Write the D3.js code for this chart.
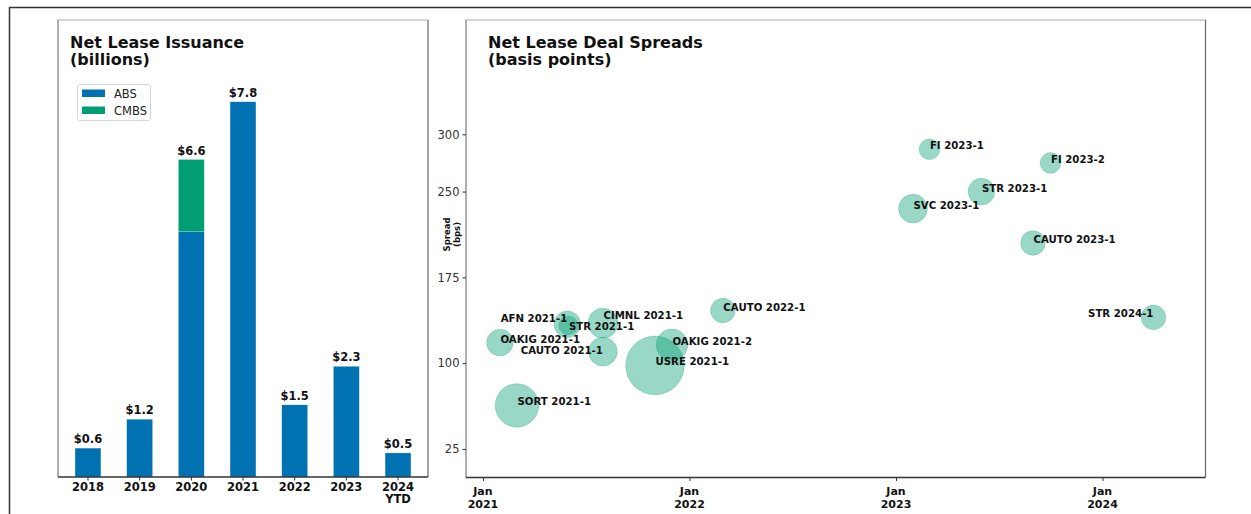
<!DOCTYPE html>
<html><head><meta charset="utf-8">
<script src="https://cdn.jsdelivr.net/npm/d3@7"></script>
<style>
body{margin:0;background:#fff;}
text{font-family:"DejaVu Sans",sans-serif;}
</style>
</head><body>
<svg id="c" width="1251" height="514"></svg>
<script>
// ---------- data ----------
const years = ["2018", "2019", "2020", "2021", "2022", "2023", "2024\nYTD"];
const absValues = [0.6, 1.2, 5.1, 7.8, 1.5, 2.3, 0.5];
const cmbsValues = [0, 0, 1.5, 0, 0, 0, 0];
const totalLabels = ["$0.6", "$1.2", "$6.6", "$7.8", "$1.5", "$2.3", "$0.5"];
const seriesNames = ["ABS", "CMBS"];

const dealNames = ["OAKIG 2021-1", "SORT 2021-1", "AFN 2021-1", "STR 2021-1", "CIMNL 2021-1",
  "CAUTO 2021-1", "USRE 2021-1", "OAKIG 2021-2", "CAUTO 2022-1", "SVC 2023-1", "FI 2023-1",
  "STR 2023-1", "CAUTO 2023-1", "FI 2023-2", "STR 2024-1"];
const dealDates = ["2021-01-31", "2021-03-02", "2021-05-30", "2021-06-01", "2021-08-01",
  "2021-08-01", "2021-11-01", "2021-12-01", "2022-03-01", "2023-01-31", "2023-03-01",
  "2023-06-01", "2023-08-31", "2023-10-01", "2024-03-31"];
const dealSpreads = [118, 63, 134, 133, 135, 110, 98, 116, 146, 235, 287, 250, 205, 275, 140];
const dealSizes = [205, 550, 205, 105, 260, 240, 1000, 290, 175, 240, 125, 205, 175, 125, 175];
const spreadTicks = [25, 100, 175, 250, 300];
const dateTicks = ["2021-01-01", "2022-01-01", "2023-01-01", "2024-01-01"];
const dateTickLabels = ["Jan\n2021", "Jan\n2022", "Jan\n2023", "Jan\n2024"];

// ---------- styling ----------
const ABS_COLOR = "#0072B2", CMBS_COLOR = "#009E73", BUBBLE = "#009E73";
const svg = d3.select("#c");

// outer frame
svg.append("path").attr("d", "M9.5,514 L9.5,7.5 L1251,7.5")
  .attr("fill", "none").attr("stroke", "#333").attr("stroke-width", 1.5);

function frame(x0, x1, y0, y1) {
  svg.append("line").attr("x1", x0).attr("x2", x1).attr("y1", y0).attr("y2", y0).attr("stroke", "#aaa").attr("stroke-width", 1.2);
  svg.append("line").attr("x1", x0).attr("x2", x0).attr("y1", y0).attr("y2", y1).attr("stroke", "#777").attr("stroke-width", 1.2);
  svg.append("line").attr("x1", x1).attr("x2", x1).attr("y1", y0).attr("y2", y1).attr("stroke", "#666").attr("stroke-width", 1.2);
  svg.append("line").attr("x1", x0).attr("x2", x1).attr("y1", y1).attr("y2", y1).attr("stroke", "#333").attr("stroke-width", 1.5);
}

// ---------- left panel: bars ----------
const L = {x0: 58, x1: 428, y0: 20, y1: 477};
const xb = d3.scaleBand().domain(years).range([L.x0, L.x1]).paddingInner(0.5).paddingOuter(0.33);
const yb = d3.scaleLinear().domain([0, 9.5]).range([L.y1, L.y0]);

const stackData = years.map((y, i) => ({year: y, ABS: absValues[i], CMBS: cmbsValues[i]}));
const stacked = d3.stack().keys(seriesNames)(stackData);
const colors = {ABS: ABS_COLOR, CMBS: CMBS_COLOR};
stacked.forEach(layer => {
  svg.append("g").selectAll("rect").data(layer.filter(d => d[1] > d[0])).join("rect")
    .attr("x", d => xb(d.data.year))
    .attr("width", xb.bandwidth())
    .attr("y", d => yb(d[1]))
    .attr("height", d => yb(d[0]) - yb(d[1]))
    .attr("fill", colors[layer.key])
    .attr("stroke", "#fff").attr("stroke-opacity", 0.5).attr("stroke-width", 0.4);
});
// totals
svg.append("g").selectAll("text").data(years).join("text")
  .attr("x", d => xb(d) + xb.bandwidth() / 2)
  .attr("y", (d, i) => yb(absValues[i] + cmbsValues[i]) - 5)
  .attr("text-anchor", "middle").attr("font-size", 11.5).attr("font-weight", "bold").attr("fill", "#111")
  .text((d, i) => totalLabels[i]);

frame(L.x0, L.x1, L.y0, L.y1);
// x axis
const gxb = svg.append("g").attr("transform", `translate(0,${L.y1})`)
  .call(d3.axisBottom(xb).tickSize(3.5).tickSizeOuter(0).tickFormat(""));
gxb.select(".domain").remove();
gxb.selectAll(".tick line").attr("stroke", "#333");
years.forEach(y => {
  const t = svg.append("text").attr("x", xb(y) + xb.bandwidth() / 2).attr("y", 490.5)
    .attr("text-anchor", "middle").attr("font-size", 11.5).attr("font-weight", "bold").attr("fill", "#111");
  y.split("\n").forEach((s, k) => t.append("tspan").attr("x", xb(y) + xb.bandwidth() / 2).attr("dy", k ? 12.5 : 0).text(s));
});
// title
const t1 = svg.append("text").attr("x", 70).attr("y", 48).attr("font-size", 16).attr("font-weight", "bold").attr("fill", "#111");
t1.append("tspan").attr("x", 70).text("Net Lease Issuance");
t1.append("tspan").attr("x", 70).attr("dy", 17).text("(billions)");
// legend
svg.append("rect").attr("x", 77.5).attr("y", 84.5).attr("width", 73).attr("height", 36).attr("rx", 2)
  .attr("fill", "#fff").attr("stroke", "#d6d6d6");
seriesNames.forEach((s, i) => {
  svg.append("rect").attr("x", 82).attr("y", 89.5 + i * 17).attr("width", 23).attr("height", 7.5).attr("fill", colors[s]);
  svg.append("text").attr("x", 114).attr("y", 97.5 + i * 17).attr("font-size", 11.5).attr("fill", "#222").text(s);
});

// ---------- right panel: bubbles ----------
const R = {x0: 466, x1: 1205.5, y0: 20, y1: 477.5};
const parse = d3.timeParse("%Y-%m-%d");
const xs = d3.scaleTime().domain([parse("2020-12-02"), parse("2024-07-01")]).range([R.x0, R.x1]);
const ys = d3.scaleLinear().domain([0, 400]).range([R.y1, R.y0]);
const rs = d3.scaleSqrt().domain([0, 1000]).range([0, 29.3]);

const deals = dealNames.map((n, i) => ({name: n, date: parse(dealDates[i]), spread: dealSpreads[i], size: dealSizes[i]}));
svg.append("g").selectAll("circle").data(deals).join("circle")
  .attr("cx", d => xs(d.date)).attr("cy", d => ys(d.spread)).attr("r", d => rs(d.size))
  .attr("fill", BUBBLE).attr("fill-opacity", 0.4)
  .attr("stroke", BUBBLE).attr("stroke-opacity", 0.25).attr("stroke-width", 1);

// label placement tweaks (style)
const labelAdjust = {
  "AFN 2021-1": {anchor: "end", dy: -2},
  "STR 2021-1": {anchor: "start", dy: 5},
  "CIMNL 2021-1": {anchor: "start", dy: -4},
  "CAUTO 2021-1": {anchor: "end", dy: 2},
  "STR 2024-1": {anchor: "end", dy: 0}
};
svg.append("g").selectAll("text").data(deals).join("text")
  .attr("x", d => xs(d.date) + ((labelAdjust[d.name] || {}).anchor === "end" ? 0 : 0.5))
  .attr("y", d => ys(d.spread) + ((labelAdjust[d.name] || {}).dy || 0))
  .attr("text-anchor", d => (labelAdjust[d.name] || {}).anchor || "start")
  .attr("font-size", 10.2).attr("font-weight", "bold").attr("fill", "#111")
  .text(d => d.name);

frame(R.x0, R.x1, R.y0, R.y1);
// y axis
const gy = svg.append("g").attr("transform", `translate(${R.x0},0)`)
  .call(d3.axisLeft(ys).tickValues(spreadTicks).tickSize(3.5).tickPadding(3));
gy.select(".domain").remove();
gy.selectAll(".tick line").attr("stroke", "#333");
gy.selectAll(".tick text").attr("font-size", 11.5).attr("fill", "#333").attr("font-family", "DejaVu Sans");
// y label
const yl = svg.append("text").attr("transform", `translate(447,${(ys(250) + ys(175)) / 2 + 0}) rotate(-90)`)
  .attr("text-anchor", "middle").attr("font-size", 8.5).attr("font-weight", "bold").attr("fill", "#111");
yl.append("tspan").attr("x", 0).attr("y", 3).text("Spread");
yl.append("tspan").attr("x", 0).attr("dy", 9.5).text("(bps)");
// x axis
const tickDates = dateTicks.map(parse);
const gx = svg.append("g").attr("transform", `translate(0,${R.y1})`)
  .call(d3.axisBottom(xs).tickValues(tickDates).tickSize(3.5).tickFormat(""));
gx.select(".domain").remove();
gx.selectAll(".tick line").attr("stroke", "#333");
tickDates.forEach((d, i) => {
  const t = svg.append("text").attr("x", xs(d)).attr("y", 495).attr("text-anchor", "middle")
    .attr("font-size", 11).attr("font-weight", "bold").attr("fill", "#111");
  dateTickLabels[i].split("\n").forEach((s, k) => t.append("tspan").attr("x", xs(d)).attr("dy", k ? 12.5 : 0).text(s));
});
// title
const t2 = svg.append("text").attr("x", 488).attr("y", 48).attr("font-size", 16).attr("font-weight", "bold").attr("fill", "#111");
t2.append("tspan").attr("x", 488).text("Net Lease Deal Spreads");
t2.append("tspan").attr("x", 488).attr("dy", 17).text("(basis points)");
</script>
</body></html>
